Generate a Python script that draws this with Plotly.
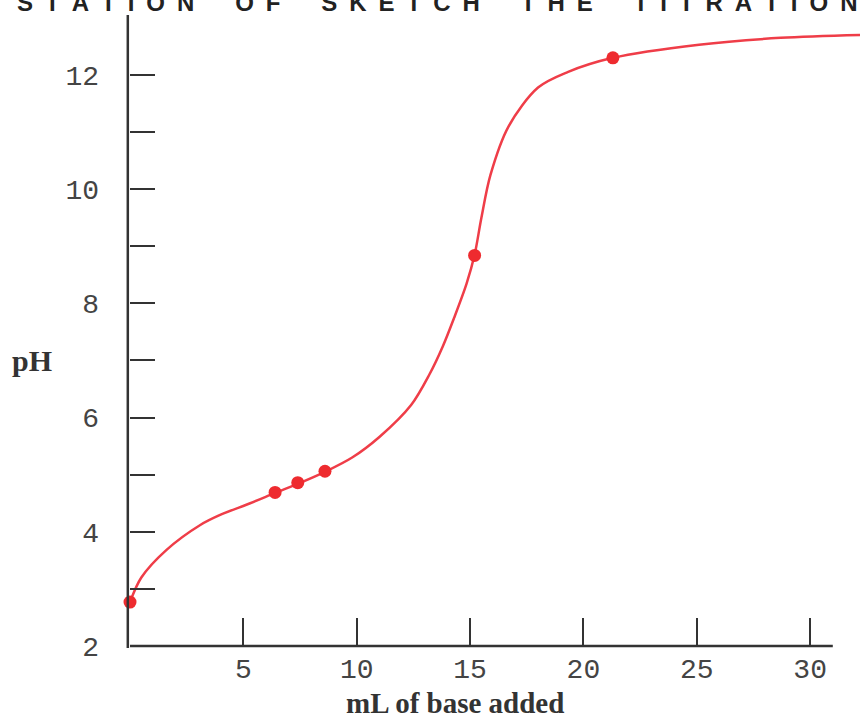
import plotly.graph_objects as go

# Smooth titration curve
curve_ml = [0, 0.5, 1.6, 3.1, 4.0, 5.3, 6.4, 7.4, 8.6, 9.8, 11.0, 12.4, 13.2, 13.8,
            14.3, 14.85, 15.2, 15.5, 15.9, 16.7, 18.0, 19.3, 21.3, 25.1, 28.7, 32.2]
curve_ph = [2.77, 3.2, 3.68, 4.12, 4.30, 4.50, 4.68, 4.84, 5.05, 5.30, 5.66, 6.22, 6.75, 7.25,
            7.75, 8.35, 8.85, 9.50, 10.25, 11.10, 11.78, 12.05, 12.30, 12.53, 12.65, 12.70]

# Marked points
point_ml = [0, 6.4, 7.4, 8.6, 15.2, 21.3]
point_ph = [2.77, 4.69, 4.86, 5.06, 8.84, 12.30]

x_tickvals = [5, 10, 15, 20, 25, 30]
x_ticktext = ["5", "10", "15", "20", "25", "30"]
y_tickvals = [2, 3, 4, 5, 6, 7, 8, 9, 10, 11, 12]
y_ticktext = ["2", "", "4", "", "6", "", "8", "", "10", "", "12"]

title_words = ["STATION", "OF", "SKETCH", "THE", "TITRATION"]
x_title = "mL of base added"
y_title = "pH"

RED_LINE = "#ef3d48"
RED_DOT = "#ee2b2f"
AX = "#333333"

fig = go.Figure()
fig.add_trace(go.Scatter(
    x=curve_ml, y=curve_ph, mode="lines",
    line=dict(color=RED_LINE, width=2.5, shape="spline", smoothing=0.9),
    hoverinfo="skip", showlegend=False,
))
fig.add_trace(go.Scatter(
    x=point_ml, y=point_ph, mode="markers",
    marker=dict(color=RED_DOT, size=13),
    cliponaxis=False, showlegend=False,
))

tick_font = dict(family="Liberation Mono", size=28, color="#444444")

fig.update_layout(
    width=860, height=716, autosize=False,
    margin=dict(l=130, r=0, t=15, b=70, pad=0),
    paper_bgcolor="white", plot_bgcolor="white",
    xaxis=dict(
        range=[0, 32.2], showgrid=False, zeroline=False, showline=False,
        ticks="inside", ticklen=28, tickwidth=2, tickcolor=AX,
        tickvals=x_tickvals, ticktext=x_ticktext, tickfont=tick_font,
        ticklabelstandoff=3,
    ),
    yaxis=dict(
        range=[2, 13.05], showgrid=False, zeroline=False, showline=False,
        ticks="inside", ticklen=25, tickwidth=2, tickcolor=AX,
        tickvals=y_tickvals, ticktext=y_ticktext, tickfont=tick_font,
        ticklabelstandoff=30,
    ),
    shapes=[
        dict(type="line", xref="paper", yref="paper", x0=-0.003, x1=-0.003, y0=-0.003, y1=1,
             line=dict(color=AX, width=2.5)),
        dict(type="line", xref="x", yref="paper", x0=0, x1=31.0, y0=0, y1=0,
             line=dict(color=AX, width=2.5)),
    ],
    annotations=[
        dict(text="<b>" + y_title + "</b>", xref="paper", yref="y", x=-0.134, y=7.0,
             xanchor="center", yanchor="middle", showarrow=False,
             font=dict(family="Liberation Serif", size=30, color="#333333")),
        dict(text="<b>" + x_title + "</b>", xref="x", yref="paper", x=14.34, y=-0.09,
             xanchor="center", yanchor="middle", showarrow=False,
             font=dict(family="Liberation Serif", size=29, color="#333333")),
        dict(text="<b>" + "\u2002\u2003\u2009".join("\u2002".join(w) for w in title_words) + "</b>",
             xref="paper", yref="paper", x=-0.1575, y=1.0206,
             xanchor="left", yanchor="middle", showarrow=False,
             font=dict(family="Liberation Sans", size=24, color="#222222")),
    ],
)

fig.write_html("out.html", config={"displayModeBar": False},
               post_script="document.body.style.margin='0';")
